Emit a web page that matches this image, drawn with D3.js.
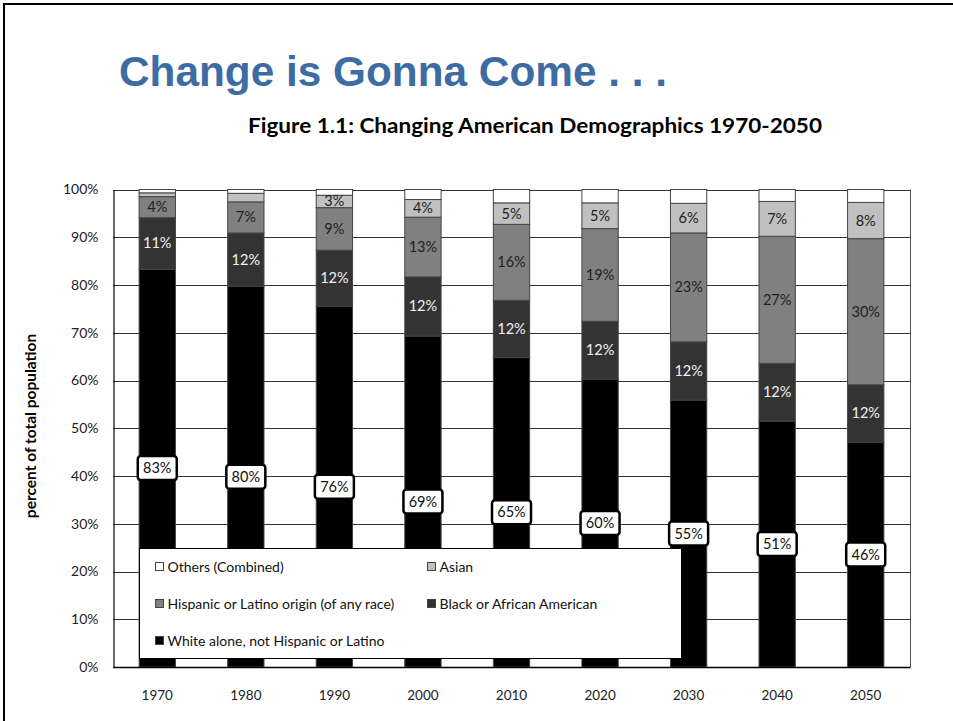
<!DOCTYPE html>
<html><head><meta charset="utf-8">
<script src="https://cdn.jsdelivr.net/npm/d3@7"></script>
<style>body{margin:0;background:#fff}svg{display:block}</style>
</head><body>
<svg id="c" width="953" height="721"></svg>
<script>
const years = ["1970","1980","1990","2000","2010","2020","2030","2040","2050"];
const white    = [83.3, 79.7, 75.5, 69.3, 64.8, 60.3, 55.9, 51.5, 47.1];
const black    = [10.8, 11.2, 11.8, 12.4, 12.0, 12.1, 12.2, 12.1, 12.0];
const hispanic = [4.4, 6.5, 8.9, 12.5, 15.9, 19.4, 22.8, 26.6, 30.6];
const asian    = [0.8, 1.8, 2.6, 3.7, 4.5, 5.4, 6.2, 7.3, 7.6];
const others   = [0.7, 0.8, 1.2, 2.1, 2.8, 2.8, 2.9, 2.5, 2.7];
const whiteLabels    = ["83%","80%","76%","69%","65%","60%","55%","51%","46%"];
const blackLabels    = ["11%","12%","12%","12%","12%","12%","12%","12%","12%"];
const hispanicLabels = ["4%","7%","9%","13%","16%","19%","23%","27%","30%"];
const asianLabels    = ["","","3%","4%","5%","5%","6%","7%","8%"];
const yTicks = [0,10,20,30,40,50,60,70,80,90,100];
const seriesNames = ["White alone, not Hispanic or Latino","Black or African American","Hispanic or Latino origin (of any race)","Asian","Others (Combined)"];

const keys = ["white","black","hispanic","asian","others"];
const fills = {white:"#000000",black:"#333333",hispanic:"#808080",asian:"#c0c0c0",others:"#ffffff"};
const labels = {white:whiteLabels,black:blackLabels,hispanic:hispanicLabels,asian:asianLabels};
const rows = years.map((y,i)=>({year:y,white:white[i],black:black[i],hispanic:hispanic[i],asian:asian[i],others:others[i],i}));

const svg = d3.select("#c");
const font = "Lato, 'Open Sans', sans-serif";
const M = {l:113, r:910, t:189.5, b:667};

// slide border
svg.append("line").attr("x1",4).attr("x2",4).attr("y1",3).attr("y2",721).attr("stroke","#000").attr("stroke-width",2);
svg.append("line").attr("x1",3).attr("x2",953).attr("y1",4).attr("y2",4).attr("stroke","#000").attr("stroke-width",2);

svg.append("text").attr("x",119).attr("y",86).text("Change is Gonna Come . . .")
  .attr("font-family","'Liberation Sans', Arial, sans-serif").attr("font-weight","bold").attr("font-size",42)
  .attr("fill","#3d6ca4").attr("textLength",548).attr("lengthAdjust","spacingAndGlyphs");
svg.append("text").attr("x",248).attr("y",133).text("Figure 1.1: Changing American Demographics 1970-2050")
  .attr("font-family",font).attr("font-weight","bold").attr("font-size",20)
  .attr("fill","#000").attr("textLength",574).attr("lengthAdjust","spacingAndGlyphs");

const x = d3.scaleBand().domain(years).range([M.l,M.r]).paddingInner(0.59).paddingOuter(0.295);
const y = d3.scaleLinear().domain([0,100]).range([M.b,M.t]);

// gridlines
const g = svg.append("g");
g.selectAll("line.grid").data(yTicks).join("line").attr("class","grid")
  .attr("x1",M.l).attr("x2",M.r).attr("y1",d=>Math.round(y(d))+0.5).attr("y2",d=>Math.round(y(d))+0.5)
  .attr("stroke","#333").attr("stroke-width",1);
// right border
svg.append("line").attr("x1",M.r+0.5).attr("x2",M.r+0.5).attr("y1",y(100)).attr("y2",y(0)).attr("stroke","#555");

// y axis
const yAxis = d3.axisLeft(y).tickValues(yTicks).tickFormat(d=>d+"%").tickSize(0).tickPadding(15);
const ya = svg.append("g").attr("transform",`translate(${M.l+0.5},0)`).call(yAxis);
ya.select(".domain").attr("stroke","#000").attr("stroke-width",1.2);
ya.selectAll("text").attr("font-family",font).attr("font-size",14).attr("fill","#222");

svg.append("text").attr("transform","translate(36,426) rotate(-90)").attr("text-anchor","middle")
  .text("percent of total population").attr("font-family",font).attr("font-weight","bold").attr("font-size",15.5).attr("fill","#000");

// stacks
const stack = d3.stack().keys(keys)(rows);
const bars = svg.append("g");
stack.forEach(layer=>{
  bars.selectAll(null).data(layer).join("rect")
    .attr("x",d=>x(d.data.year)).attr("width",x.bandwidth())
    .attr("y",d=>y(d[1])).attr("height",d=>y(d[0])-y(d[1]))
    .attr("fill",fills[layer.key]).attr("stroke","#444").attr("stroke-width",1);
});

// legend box (drawn over bars)
const lg = svg.append("g");
lg.append("rect").attr("x",139.5).attr("y",548.5).attr("width",542).attr("height",110)
  .attr("fill","#fff").attr("stroke","#000").attr("stroke-width",1);
const legendItems = [
  {k:"others",name:seriesNames[4],x:155,y:567},
  {k:"asian",name:seriesNames[3],x:427,y:567},
  {k:"hispanic",name:seriesNames[2],x:155,y:604},
  {k:"black",name:seriesNames[1],x:427,y:604},
  {k:"white",name:seriesNames[0],x:155,y:641}
];
legendItems.forEach(it=>{
  lg.append("rect").attr("x",it.x+0.5).attr("y",it.y-4.5).attr("width",8).attr("height",8)
    .attr("fill",fills[it.k]).attr("stroke","#444").attr("stroke-width",1);
  lg.append("text").attr("x",it.x+12.5).attr("y",it.y+5).text(it.name)
    .attr("font-family",font).attr("font-size",14).attr("fill","#111");
});

// segment labels
const lab = svg.append("g");
stack.forEach(layer=>{
  if(layer.key==="others") return;
  layer.forEach(d=>{
    const t = labels[layer.key][d.data.i];
    if(!t) return;
    const cx = x(d.data.year)+x.bandwidth()/2;
    const cy = (y(d[0])+y(d[1]))/2;
    if(layer.key==="white"){
      lab.append("rect").attr("x",cx-19.5).attr("y",cy-12).attr("width",39).attr("height",24)
        .attr("rx",3).attr("fill","#fff").attr("stroke","#000").attr("stroke-width",2.5);
      lab.append("text").attr("x",cx).attr("y",cy+5).attr("text-anchor","middle").text(t)
        .attr("font-family",font).attr("font-size",14.5).attr("fill","#111");
    } else {
      lab.append("text").attr("x",cx).attr("y",cy+5).attr("text-anchor","middle").text(t)
        .attr("font-family",font).attr("font-size",14.5)
        .attr("fill",layer.key==="black"?"#f2f2f2":"#222");
    }
  });
});

// x axis
const xAxis = d3.axisBottom(x).tickSize(0).tickPadding(23);
const xa = svg.append("g").attr("transform",`translate(0,${M.b})`).call(xAxis);
xa.select(".domain").attr("stroke","#000").attr("stroke-width",1.5);
xa.selectAll("text").attr("font-family",font).attr("font-size",13.5).attr("fill","#222");
</script>
</body></html>
